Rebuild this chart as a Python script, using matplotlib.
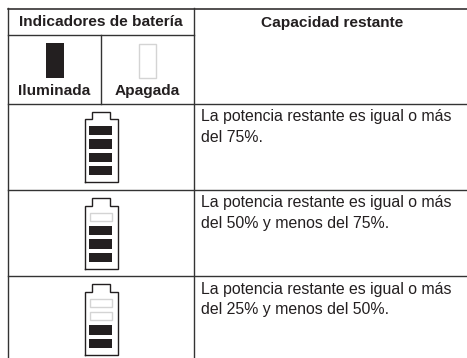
import matplotlib
matplotlib.use('Agg')
import matplotlib.pyplot as plt
from matplotlib.patches import Rectangle

plt.rcParams['font.family'] = ['Liberation Sans', 'DejaVu Sans']

W, H = 467, 358
DARK = '#231f20'
OFF = '#d4d4d4'
FS = 11.45
FS_BOLD = 11.1

header_left = 'Indicadores de batería'
header_right = 'Capacidad restante'
sub_headers = ['Iluminada', 'Apagada']
descriptions = [
    'La potencia restante es igual o más\ndel 75%.',
    'La potencia restante es igual o más\ndel 50% y menos del 75%.',
    'La potencia restante es igual o más\ndel 25% y menos del 50%.',
]
lit_segments = [4, 3, 2]
battery_tops = [111.5, 198, 284]
row_tops = [103.5, 189.5, 276]


def battery(ax, top, lit):
    # outline with the small cap on top
    xs = [84.5, 84.5, 92, 92, 110, 110, 117.5, 117.5, 84.5]
    ys = [top + 70.5, top + 7.5, top + 7.5, top, top, top + 7.5, top + 7.5, top + 70.5, top + 70.5]
    ax.plot(xs, ys, color=DARK, lw=1.0, solid_joinstyle='miter')
    for i in range(4):
        y = top + 14.5 + i * 13.4
        if i >= 4 - lit:
            ax.add_patch(Rectangle((89, y), 23, 9.2, fc=DARK, ec='none'))
        else:
            ax.add_patch(Rectangle((89.5, y), 22, 8.5, fc='white', ec=OFF, lw=1.0))


fig = plt.figure(figsize=(W / 100, H / 100), dpi=100)
ax = fig.add_axes([0, 0, 1, 1])
ax.set_xlim(0, W)
ax.set_ylim(H, 0)
ax.axis('off')

# table rules
line = dict(color='#333333', lw=1.0)
ax.plot([8, W], [8.5, 8.5], color=DARK, lw=1.1)
ax.plot([8, 8], [8, H], **line)
ax.plot([193.5, 193.5], [8, H], **line)
ax.plot([100.5, 100.5], [34.5, 103.5], **line)
ax.plot([8, 193.5], [34.5, 34.5], **line)
for y in row_tops:
    ax.plot([8, W], [y, y], **line)

# header
ax.text(100.5, 22.5, header_left, ha='center', va='center', fontsize=FS_BOLD, fontweight='bold', color=DARK)
ax.text(332, 22.5, header_right, ha='center', va='center', fontsize=FS_BOLD, fontweight='bold', color=DARK)
ax.text(54.5, 91, sub_headers[0], ha='center', va='center', fontsize=FS_BOLD, fontweight='bold', color=DARK)
ax.text(147, 91, sub_headers[1], ha='center', va='center', fontsize=FS_BOLD, fontweight='bold', color=DARK)

# legend swatches
ax.add_patch(Rectangle((45.5, 43), 18, 34.5, fc=DARK, ec='none'))
ax.add_patch(Rectangle((139, 43.5), 17, 34, fc='white', ec=OFF, lw=1.0))

for top, lit, row, txt in zip(battery_tops, lit_segments, row_tops, descriptions):
    battery(ax, top, lit)
    ax.text(201, row + 6, txt, ha='left', va='top', fontsize=FS, color=DARK, linespacing=1.42)

fig.savefig('out.png', dpi=100)
